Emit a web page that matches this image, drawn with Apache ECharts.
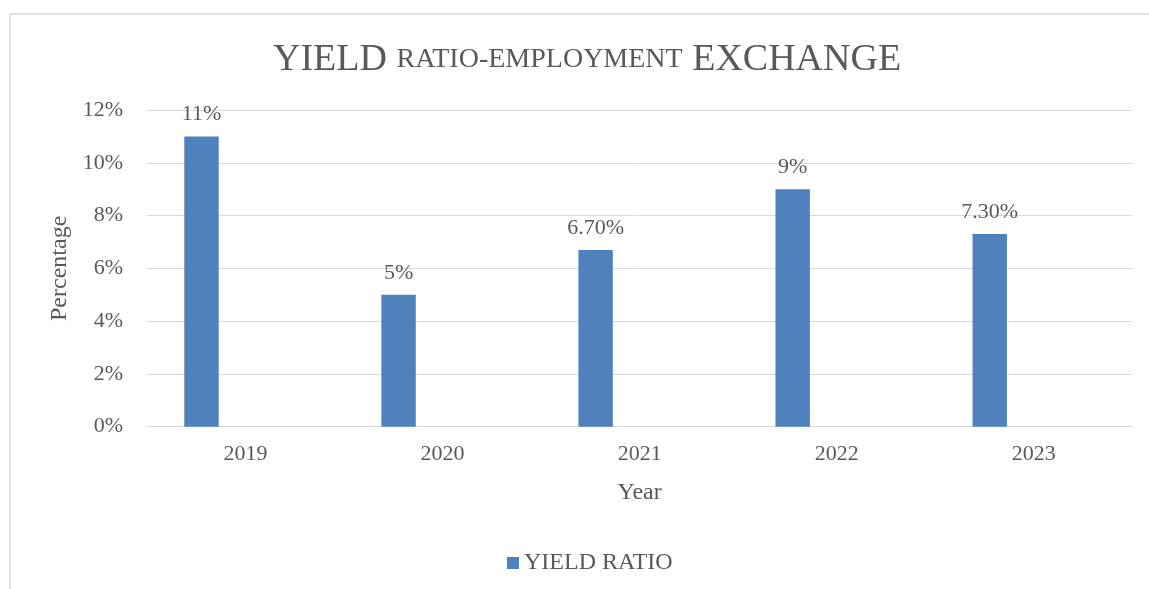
<!DOCTYPE html>
<html>
<head>
<meta charset="utf-8">
<style>
  html, body { margin: 0; padding: 0; background: #ffffff; }
  #chart { width: 1149px; height: 589px; }
</style>
<script src="https://cdn.jsdelivr.net/npm/echarts@6/dist/echarts.min.js"></script>
</head>
<body>
<div id="chart"></div>
<script>
// Yield ratio by year (percent)
const years = ['2019', '2020', '2021', '2022', '2023'];
const yieldRatio = [11, 5, 6.7, 9, 7.3];
const yieldLabels = ['11%', '5%', '6.70%', '9%', '7.30%'];
const yTicks = [0, 2, 4, 6, 8, 10, 12];

const textColor = '#595959';
const gridColor = '#d9d9d9';
const serif = '"Liberation Serif", "Times New Roman", serif';

const chart = echarts.init(document.getElementById('chart'), null, { renderer: 'canvas' });

chart.setOption({
  backgroundColor: '#ffffff',
  animation: false,
  textStyle: { fontFamily: serif, color: textColor },
  graphic: [
    // chart area frame (top and left edges)
    { type: 'line', shape: { x1: 10, y1: 14, x2: 1149, y2: 14 }, style: { stroke: gridColor, lineWidth: 1.5 } },
    { type: 'line', shape: { x1: 10, y1: 14, x2: 10, y2: 589 }, style: { stroke: gridColor, lineWidth: 1.5 } }
  ],
  title: {
    text: '{big|YIELD} {small|RATIO-EMPLOYMENT} {big|EXCHANGE}',
    left: 268,
    top: 36,
    textStyle: {
      fontWeight: 'normal',
      fontFamily: serif,
      fontSize: 38,
      rich: {
        big: { fontFamily: serif, fontSize: 38, fontWeight: 'normal', color: textColor },
        small: { fontFamily: serif, fontSize: 28, fontWeight: 'normal', color: textColor }
      }
    }
  },
  legend: {
    data: ['YIELD RATIO'],
    left: 507,
    top: 551,
    padding: 0,
    icon: 'rect',
    itemWidth: 12,
    itemHeight: 12,
    itemGap: 10,
    textStyle: { fontFamily: serif, fontSize: 24, color: textColor }
  },
  grid: {
    left: 147,
    right: 16.7,
    top: 110,
    bottom: 162.3,
    containLabel: false
  },
  xAxis: {
    type: 'category',
    data: years,
    name: 'Year',
    nameLocation: 'middle',
    nameGap: 54,
    nameTextStyle: { fontFamily: serif, fontSize: 24, color: textColor },
    axisLine: { show: true, lineStyle: { color: gridColor, width: 1 } },
    axisTick: { show: false },
    axisLabel: { fontFamily: serif, fontSize: 22, color: textColor, margin: 17 }
  },
  yAxis: {
    type: 'value',
    min: yTicks[0],
    max: yTicks[yTicks.length - 1],
    interval: 2,
    name: 'Percentage',
    nameLocation: 'middle',
    nameGap: 73,
    nameTextStyle: { fontFamily: serif, fontSize: 24, color: textColor },
    axisLine: { show: false },
    axisTick: { show: false },
    axisLabel: { fontFamily: serif, fontSize: 22, color: textColor, margin: 24, formatter: '{value}%' },
    splitLine: { lineStyle: { color: gridColor, width: 1 } }
  },
  series: [
    {
      name: 'YIELD RATIO',
      type: 'bar',
      data: yieldRatio,
      barWidth: 34.4,
      barGap: '156%',
      itemStyle: { color: '#4f81bd' },
      label: {
        show: true,
        position: 'top',
        distance: 11,
        fontFamily: serif,
        fontSize: 22,
        color: textColor,
        formatter: (p) => yieldLabels[p.dataIndex]
      }
    },
    {
      // empty companion slot in each category
      name: 'blank',
      type: 'bar',
      data: years.map(() => null),
      barWidth: 34.4,
      barGap: '156%',
      itemStyle: { color: 'transparent' }
    }
  ]
});
</script>
</body>
</html>
